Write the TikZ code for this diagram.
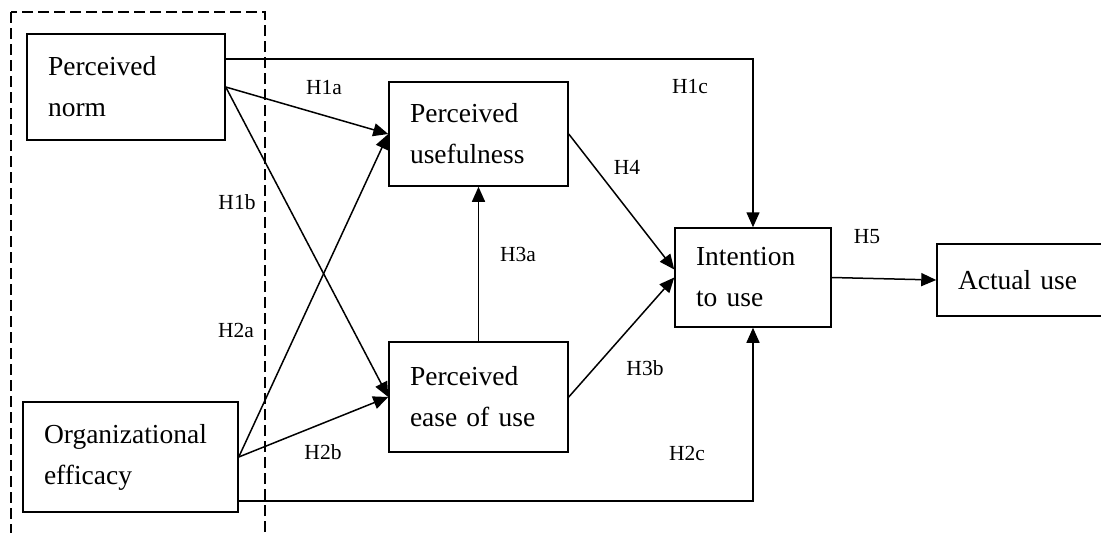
\documentclass[tikz,border=0pt]{standalone}
\usepackage{fontspec}
\setmainfont{Liberation Serif}
\usetikzlibrary{arrows.meta,calc}
\tikzstyle{construct}=[draw,rectangle,line width=1.5pt,inner xsep=21pt,inner ysep=0pt,align=left,font=\fontsize{27.5}{41}\selectfont]
\tikzstyle{hyp}=[font=\fontsize{21.5}{25}\selectfont,inner sep=0pt]
\tikzstyle{link}=[line width=1.5pt,-{Triangle[length=15pt,width=13pt]}]
\tikzstyle{plain}=[line width=1.5pt]
\begin{document}
\begin{tikzpicture}[x=1pt,y=-1pt]
    \useasboundingbox (0,0) rectangle (1101,533);
    % exogenous group
    \draw[plain,dash pattern=on 11pt off 5pt] (11,12) rectangle (265,545);

    \node[construct,text width=156pt,minimum height=106pt] (PN) at (126,87) {Perceived\\norm};
    \node[construct,text width=173pt,minimum height=110pt] (OE) at (130.5,457) {Organizational\\efficacy};
    \node[construct,text width=137pt,minimum height=104pt] (PU) at (478.5,134) {Perceived\\usefulness};
    \node[construct,text width=137pt,minimum height=110pt] (PEU) at (478.5,397) {Perceived\\ease of use};
    \node[construct,text width=114pt,minimum height=99pt] (IU) at (753,277.5) {Intention\\to use};
    \node[construct,text width=140pt,minimum height=72pt] (AU) at (1028,280) {Actual use};

    \coordinate (top) at (753,59);
    \coordinate (bot) at (753,501);

    \foreach \from/\to in {PN.east/PU.west,PN.east/PEU.west,OE.east/PU.west,OE.east/PEU.west,PEU.north/PU.south,PEU.east/IU.west,IU.east/AU.west}
    \draw[link] (\from) -- (\to);
    \draw[link] (PU.east) -- ($(IU.west)+(0,-8)$);
    \draw[link] (PN.east |- top) -- (top) -- (IU.north);
    \draw[link] (OE.east |- bot) -- (bot) -- (IU.south);

    \node[hyp] (h1a) at (324,88) {H1a};
    \node[hyp] (h1b) at (237,202) {H1b};
    \node[hyp] (h1c) at (690,87) {H1c};
    \node[hyp] (h2a) at (236,330) {H2a};
    \node[hyp] (h2b) at (323,452) {H2b};
    \node[hyp] (h2c) at (687,453) {H2c};
    \node[hyp] (h3a) at (518,254) {H3a};
    \node[hyp] (h3b) at (645,368) {H3b};
    \node[hyp] (h4) at (627,167) {H4};
    \node[hyp] (h5) at (867,237) {H5};
\end{tikzpicture}
\end{document}
